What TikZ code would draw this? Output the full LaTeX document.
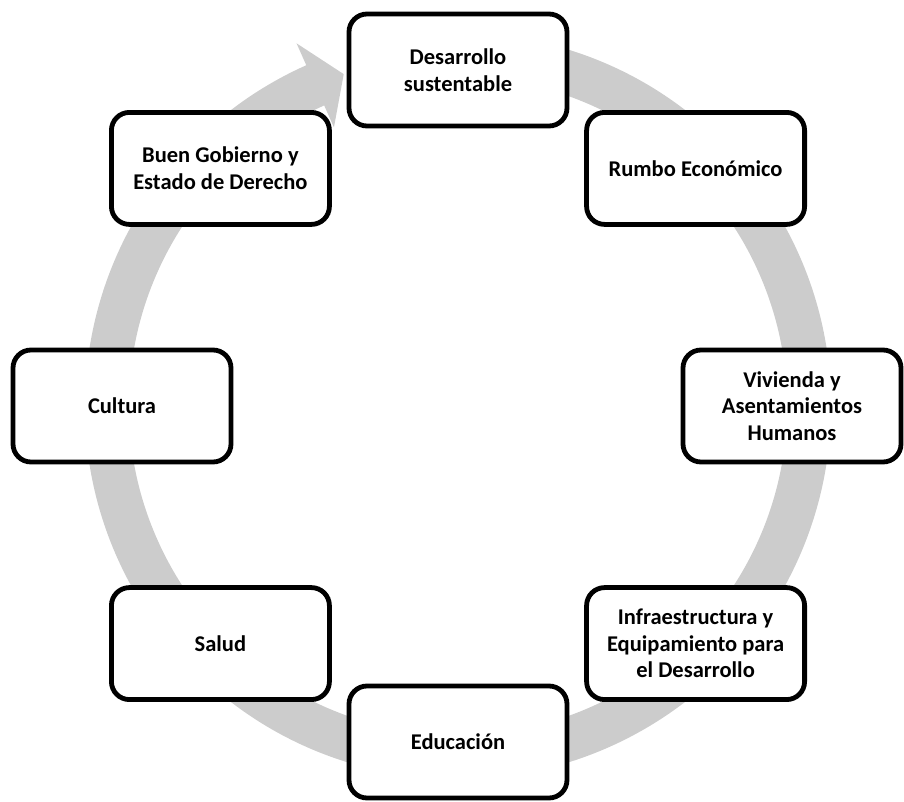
\documentclass[tikz,border=0pt]{standalone}
\usepackage{fontspec}
\setmainfont{Carlito}
\usetikzlibrary{positioning}
\usetikzlibrary{calc}

\begin{document}
\begin{tikzpicture}[
                x=1pt, y=1pt,
                cajita/.style={draw, line width=4.8pt, rounded corners=18pt, fill=white,
                    minimum width=218pt, minimum height=112pt, align=center,
                    font=\fontsize{22.5}{26.5}\selectfont\bfseries},
                anillo/.style={fill=black!20, draw=none}
            ]

            \useasboundingbox (0,0) rectangle (904,801);
            \coordinate (centro) at (458,395);

            % Gray cycle arrow
            \begin{scope}[shift={(458,395)}]
                \path[anillo] (80:373pt) arc[start angle=80, end angle=-246, radius=373pt]
                    -- (-246:397pt) -- (-251:351pt) -- (-246:305pt) -- (-246:329pt)
                    arc[start angle=-246, end angle=80, radius=329pt] -- cycle;
            \end{scope}

            % Define nodes
            \node[cajita] (desarrollo) at ($(centro)+(90:336pt)$) {Desarrollo\\sustentable};
            \node[cajita] (rumbo) at ($(centro)+(45:336pt)$) {Rumbo Económico};
            \node[cajita] (vivienda) at ($(centro)+(0:334pt)$) {Vivienda y\\Asentamientos\\Humanos};
            \node[cajita] (infra) at ($(centro)+(-45:336pt)$) {Infraestructura y\\Equipamiento para\\el Desarrollo};
            \node[cajita] (educacion) at ($(centro)+(-90:336pt)$) {Educación};
            \node[cajita] (salud) at ($(centro)+(-135:336pt)$) {Salud};
            \node[cajita] (cultura) at ($(centro)+(180:336pt)$) {Cultura};
            \node[cajita] (gobierno) at ($(centro)+(135:336pt)$) {Buen Gobierno y\\Estado de Derecho};

        \end{tikzpicture}
\end{document}
